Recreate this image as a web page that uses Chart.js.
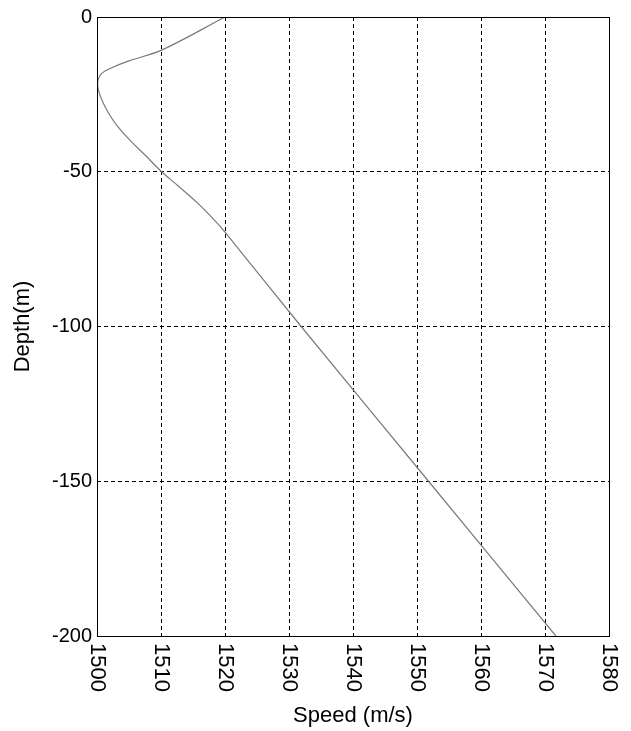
<!DOCTYPE html>
<html lang="en">
<head>
    <meta charset="UTF-8">
    <title>Sound Speed Profile</title>
    <script src="https://cdn.jsdelivr.net/npm/chart.js"></script>
    <style>
        body {
            margin: 0;
            background-color: #fff;
        }
        .chart-container {
            position: relative;
            width: 631px;
            height: 731px;
        }
    </style>
</head>
<body>
    <div class="chart-container">
        <canvas id="chart"></canvas>
    </div>

    <script>
        // Profile (depth in m, speed in m/s)
        const depths = [0, -10.7, -14.1, -16.4, -18.3, -20.5, -23.5, -27.5, -31, -35, -39.7, -45, -50, -54.6, -59.9, -65.3, -69.5, -100, -150, -200];
        const speeds = [1520, 1510.1, 1505.1, 1502.3, 1500.7, 1500.15, 1500.2, 1500.9, 1501.8, 1503.1, 1505.1, 1507.7, 1510.1, 1512.7, 1515.6, 1518.2, 1520, 1531.9, 1551.8, 1571.7];

        // Tick labels
        const speedTicks = [1500, 1510, 1520, 1530, 1540, 1550, 1560, 1570, 1580];
        const depthTicks = [0, -50, -100, -150, -200];

        const fontFamily = '"Liberation Sans", Arial, Helvetica, sans-serif';
        Chart.defaults.font.family = fontFamily;
        Chart.defaults.color = '#000';

        // Solid frame round the plot, plus the x labels turned clockwise
        const frameAndLabels = {
            id: 'frameAndLabels',
            afterDraw(chart) {
                const { ctx, chartArea: a, scales } = chart;
                ctx.save();
                ctx.setLineDash([]);
                ctx.strokeStyle = '#000';
                ctx.lineWidth = 1;
                ctx.strokeRect(Math.round(a.left) + 0.5, Math.round(a.top) + 0.5,
                    Math.round(a.right - a.left), Math.round(a.bottom - a.top));

                ctx.fillStyle = '#000';
                ctx.font = '22px ' + fontFamily;
                ctx.textAlign = 'left';
                ctx.textBaseline = 'middle';
                speedTicks.forEach(v => {
                    const x = scales.x.getPixelForValue(v);
                    ctx.save();
                    ctx.translate(x, a.bottom + 7);
                    ctx.rotate(Math.PI / 2);
                    ctx.fillText(String(v), 0, 0);
                    ctx.restore();
                });
                ctx.restore();
            }
        };

        const ctx = document.getElementById('chart').getContext('2d');
        new Chart(ctx, {
            type: 'scatter',
            data: {
                datasets: [{
                    data: depths.map((d, i) => ({ x: speeds[i], y: d })),
                    showLine: true,
                    borderColor: '#7a7a7a',
                    borderWidth: 1.2,
                    pointRadius: 0,
                    tension: 0.35,
                    fill: false
                }]
            },
            options: {
                responsive: true,
                maintainAspectRatio: false,
                animation: false,
                layout: {
                    padding: { top: 17, right: 22, left: 0, bottom: 0 }
                },
                plugins: {
                    legend: { display: false },
                    tooltip: { enabled: false }
                },
                scales: {
                    x: {
                        type: 'linear',
                        min: 1500,
                        max: 1580,
                        afterBuildTicks: s => { s.ticks = speedTicks.map(v => ({ value: v })); },
                        afterFit: s => { s.height = 95; },
                        ticks: { display: false },
                        grid: { color: '#000', lineWidth: 1, drawTicks: false },
                        border: { display: false, dash: [4, 3] },
                        title: {
                            display: true,
                            text: 'Speed (m/s)',
                            font: { size: 22 },
                            padding: { top: 0, bottom: 2 }
                        }
                    },
                    y: {
                        type: 'linear',
                        min: -200,
                        max: 0,
                        afterBuildTicks: s => { s.ticks = depthTicks.map(v => ({ value: v })); },
                        afterFit: s => { s.width = 97; },
                        ticks: {
                            font: { size: 20 },
                            padding: 5
                        },
                        grid: { color: '#000', lineWidth: 1, drawTicks: false },
                        border: { display: false, dash: [4, 3] },
                        title: {
                            display: true,
                            text: 'Depth(m)',
                            font: { size: 22 },
                            padding: { top: 10, bottom: 0 }
                        }
                    }
                }
            },
            plugins: [frameAndLabels]
        });
    </script>
</body>
</html>
